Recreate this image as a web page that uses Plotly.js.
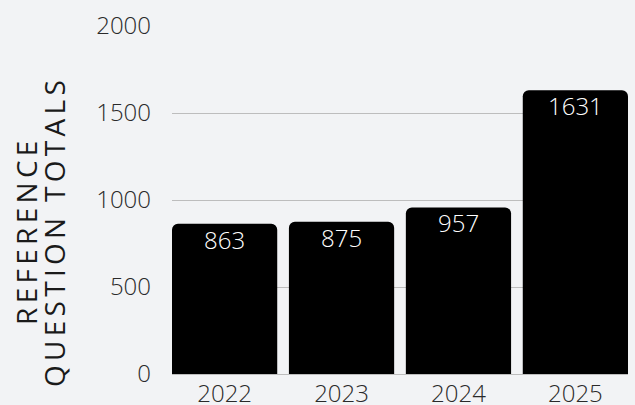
<!DOCTYPE html>
<html>
<head>
<meta charset="utf-8">
<script src="https://cdn.plot.ly/plotly-3.0.1.min.js"></script>
<style>
html,body{margin:0;padding:0;background:#f2f3f5;}
#chart{width:635px;height:405px;}
.annotation[data-index="0"] .annotation-text,
.annotation[data-index="1"] .annotation-text{letter-spacing:4.3px;}
</style>
</head>
<body>
<div id="chart"></div>
<script>
const years = ['2022', '2023', '2024', '2025'];
const totals = [863, 875, 957, 1631];
const yTicks = [0, 500, 1000, 1500, 2000];
const yTitleLines = ['REFERENCE', 'QUESTION TOTALS'];

const fam = '"Open Sans", sans-serif';
const tickFont = {family: fam, size: 24, color: '#2a2a2a', weight: 300};

const trace = {
  type: 'bar',
  x: years,
  y: totals,
  marker: {color: '#000000', cornerradius: 6},
  hoverinfo: 'none'
};

const valueLabels = years.map((yr, i) => ({
  text: String(totals[i]),
  x: i, y: totals[i],
  xref: 'x', yref: 'y',
  xanchor: 'center', yanchor: 'top',
  yshift: 3,
  showarrow: false,
  font: {family: fam, size: 24, color: '#ffffff', weight: 300}
}));

const titleX = [-0.321, -0.259];
const titleLabels = yTitleLines.map((line, i) => ({
  text: line,
  textangle: -90,
  xref: 'paper', yref: 'paper',
  x: titleX[i], y: 0.411,
  xanchor: 'center', yanchor: 'middle',
  showarrow: false,
  font: {family: fam, size: 28, color: '#1a1a1a', weight: 400}
}));

const layout = {
  width: 635,
  height: 405,
  paper_bgcolor: '#f2f3f5',
  plot_bgcolor: '#f2f3f5',
  margin: {l: 172, r: 7, t: 26, b: 31},
  bargap: 0.1,
  showlegend: false,
  font: tickFont,
  xaxis: {
    type: 'category',
    range: [-0.45, 3.45],
    showgrid: false,
    zeroline: false,
    showline: false,
    ticks: '',
    tickfont: tickFont,
    ticklabelstandoff: 3
  },
  yaxis: {
    range: [0, 2000],
    tickvals: yTicks,
    ticktext: yTicks.map(String),
    showgrid: true,
    gridcolor: '#bdbdbd',
    gridwidth: 1,
    zeroline: true,
    zerolinecolor: '#bdbdbd',
    zerolinewidth: 1,
    showline: false,
    ticks: '',
    tickfont: tickFont,
    ticklabelstandoff: 20
  },
  annotations: titleLabels.concat(valueLabels)
};

Plotly.newPlot('chart', [trace], layout, {staticPlot: true, displayModeBar: false});
</script>
</body>
</html>
